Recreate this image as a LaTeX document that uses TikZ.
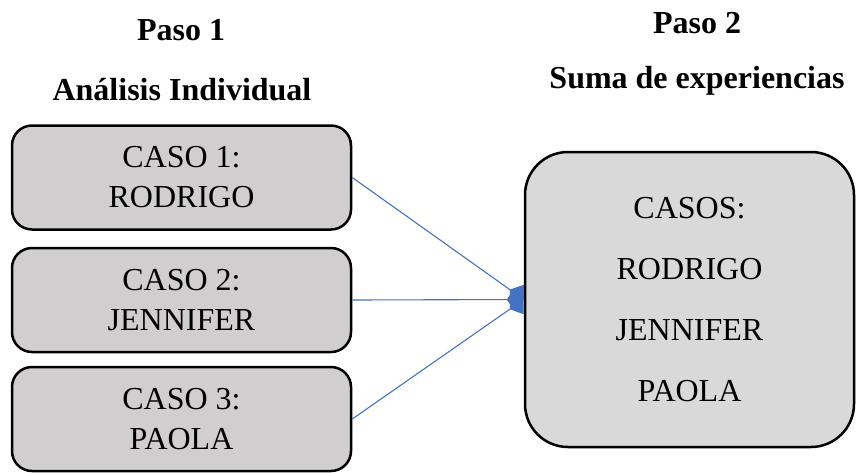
\documentclass[tikz,border=0pt]{standalone}
\usepackage{fontspec}
\setmainfont{Liberation Serif}
\usetikzlibrary{arrows.meta}
\definecolor{grisCaso}{HTML}{D0CECE}
\definecolor{grisTodos}{HTML}{D9D9D9}
\definecolor{azulFlecha}{HTML}{4472C4}

\begin{document}
\begin{tikzpicture}[x=1pt,y=-1pt,
  every node/.style={font=\fontsize{32}{40}\selectfont},
  titulo/.style={anchor=base,font=\fontsize{32}{40}\selectfont\bfseries},
  caso/.style={draw,line width=2.5pt,rounded corners=20pt,fill=grisCaso,
    minimum width=339pt,minimum height=104pt,align=center,inner sep=0pt},
  todos/.style={draw,line width=2.5pt,rounded corners=43pt,fill=grisTodos,
    minimum width=329pt,minimum height=295pt,align=center,inner sep=0pt,
    font=\fontsize{32}{61}\selectfont},
  flecha/.style={azulFlecha,line width=1.1pt,-{Diamond[length=17pt,width=24pt]}}]
\useasboundingbox (0,0) rectangle (856,472);
\node[titulo] (p1) at (181,40) {Paso 1};
\node[titulo] (t1) at (182,100) {Análisis Individual};
\node[titulo] (p2) at (697,33) {Paso 2};
\node[titulo] (t2) at (697,88) {Suma de experiencias};
\node[caso] (c1) at (181.5,177.5) {CASO 1:\\RODRIGO};
\node[caso] (c2) at (181.5,300) {CASO 2:\\JENNIFER};
\node[caso] (c3) at (181.5,419) {CASO 3:\\PAOLA};
\node[todos] (s) at (689.5,299.5) {CASOS:\\RODRIGO\\JENNIFER\\PAOLA};
\draw[flecha] (c1.east) -- (s.west);
\draw[flecha] (c2.east) -- (s.west);
\draw[flecha] (c3.east) -- (s.west);
\end{tikzpicture}
\end{document}
